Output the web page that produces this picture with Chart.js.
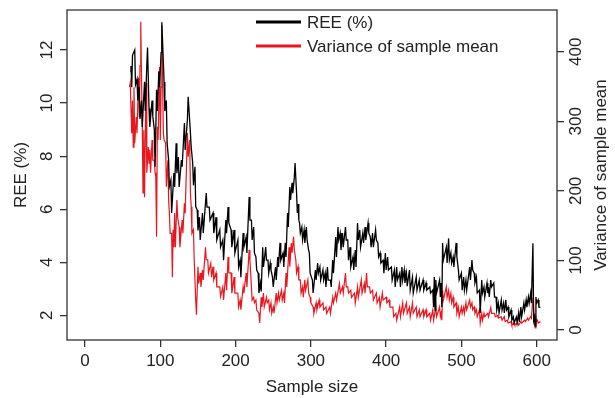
<!DOCTYPE html>
<html>
<head>
<meta charset="UTF-8">
<script src="https://cdn.jsdelivr.net/npm/chart.js@4.4.1/dist/chart.umd.min.js"></script>
<style>body{margin:0;background:#fff}</style>
</head>
<body>
<canvas id="chart" width="615" height="398"></canvas>
<script>
// tick labels
var sizeTicks = [0, 100, 200, 300, 400, 500, 600];
var reeTicks = [2, 4, 6, 8, 10, 12];
var varTicks = [0, 100, 200, 300, 400];

// REE (%) against sample size (left axis)
var reeSize = [
  60,61,62,63,66,67,69,70,72,73, 75,76,79,80,82,83,85,86,89,90,
  92,93,95,96,98,99,101,102,105,106, 108,109,111,112,114,115,118,119,121,122,
  124,125,128,129,132,133,136,137,140,141, 143,144,146,147,149,150,152,153,156,157,
  161,162,165,166,170,171,174,175,179,180, 183,184,187,188,190,191,194,195,198,199,
  203,204,206,207,210,211,214,215,218,219, 221,222,224,225,227,228,230,231,233,234,
  236,237,240,241,243,244,246,247,249,250, 253,254,256,257,259,260,263,264,266,267,
  269,270,272,273,275,276,278,279,281,282, 283,284,285,286,288,289,291,292,294,295,
  296,297,298,299,302,303,306,307,309,310, 312,313,316,317,319,320,322,323,326,327,
  329,330,333,334,336,337,339,340,342,343, 346,347,349,350,352,353,356,357,359,360,
  362,363,365,366,369,370,372,373,376,377, 379,380,382,383,386,387,389,390,392,393,
  396,397,399,400,402,403,407,408,411,412, 414,415,418,419,421,422,424,425,427,428,
  431,432,435,436,440,441,444,445,449,450, 453,454,458,459,462,463,464,465,466,467,
  471,472,473,474,475,476,480,481,483,484, 486,487,489,490,493,494,496,497,500,501,
  503,504,506,507,511,512,514,515,517,518, 520,521,524,525,527,528,530,531,534,535,
  536,537,539,540,543,544,546,547,549,550, 553,554,556,557,559,560,562,563,566,567,
  569,570,573,574,576,577,579,580,583,584, 586,587,589,590,592,593,595,596,597,598,
  599,600,602,603,605
];
var reeValue = [
  11.2,11.4,10.6,11.8,12.0,10.7,10.9,10.1,10.6,9.4, 10.1,9.1,10.8,9.7,11.4,12.1,9.8,9.1,10.1,9.5,
  9.0,7.6,10.5,9.7,11.2,10.6,11.9,13.05,10.8,9.7, 10.1,8.5,7.85,6.85,7.1,5.86,7.36,6.84,8.49,7.36,
  7.97,6.84,7.85,7.6,9.25,8.23,9.4,10.24,8.87,8.34, 7.74,6.9,7.6,6.1,5.97,5.2,5.7,4.84,5.86,5.1,
  6.61,6.08,6.08,5.59,5.86,5.1,5.7,4.84,5.22,4.57, 4.84,4.08,5.59,5.1,6.08,5.48,5.22,4.57,5.22,4.35,
  4.84,3.82,4.08,3.44,5.1,4.57,4.95,4.35,6.46,5.59, 5.59,4.84,5.33,4.35,4.2,3.71,3.59,2.84,3.22,2.9,
  4.57,3.82,4.57,4.08,4.08,3.59,3.97,3.71,3.44,3.07, 3.82,3.33,4.2,3.82,4.73,4.08,4.35,3.82,4.73,4.2,
  5.86,5.33,6.84,6.35,7.0,6.6,7.2,7.74,6.61,5.86, 6.2,5.59,5.48,5.1,5.33,4.84,5.22,4.73,5.33,4.84,
  4.84,4.46,4.35,3.59,3.33,2.84,3.71,3.33,3.97,3.59, 3.82,3.33,3.71,3.33,3.59,3.07,3.82,3.33,3.33,3.07,
  4.08,3.59,4.95,4.2,5.33,4.84,5.1,4.46,5.1,4.57, 5.33,4.84,4.84,4.08,4.57,3.82,4.2,3.71,4.46,3.82,
  5.48,4.84,5.22,4.57,5.1,4.73,5.33,4.84,5.48,5.1, 4.95,4.57,5.1,4.57,5.22,4.84,4.73,4.2,4.35,3.97,
  4.08,3.59,4.35,3.71,4.2,3.71,3.82,3.33,3.71,3.07, 3.82,3.33,3.59,3.07,3.82,3.33,3.71,3.22,3.59,3.1,
  3.71,2.95,3.44,2.84,3.44,2.95,3.33,2.95,3.33,2.95, 3.22,2.95,3.07,2.84,2.95,2.31,3.44,2.2,3.33,2.84,
  3.33,2.69,3.22,2.31,4.73,4.08,4.57,3.97,4.9,4.08, 4.35,3.97,4.2,3.82,4.73,4.2,3.71,3.33,3.59,2.95,
  3.44,2.95,3.33,2.95,3.82,3.33,4.08,3.71,3.59,3.22, 3.44,2.84,2.95,2.09,3.33,2.84,3.07,2.69,3.22,2.84,
  3.07,2.69,3.33,3.07,3.22,2.69,2.69,2.2,2.46,2.09, 2.58,2.2,2.46,2.09,2.58,2.2,2.31,1.94,2.2,1.82,
  1.94,1.71,1.94,1.71,2.09,1.75,2.31,1.94,2.46,2.2, 2.58,2.31,2.69,2.46,2.84,2.46,4.72,1.82,1.94,1.6,
  2.69,2.46,2.58,2.31,2.3
];

// variance of sample mean against sample size (right axis)
var varSize = [
  59,60,61,62,63,64,65,66,68,69, 71,72,73,74,75,76,77,78,79,81,
  82,84,85,86,87,89,90,92,93,94, 95,96,97,99,100,101,102,104,105,107,
  108,110,111,112,113,115,116,117,118,119, 120,122,123,125,126,129,130,132,133,136,
  137,139,140,141,142,144,145,147,148,150, 151,153,154,156,157,160,161,163,164,167,
  168,170,171,174,175,179,180,183,184,187, 188,190,191,194,195,198,199,203,204,206,
  207,210,211,214,215,218,219,221,222,224, 225,227,228,231,232,234,235,237,238,241,
  242,244,245,247,248,250,251,254,255,257, 258,261,262,264,265,267,268,271,272,274,
  275,277,278,280,281,283,284,286,287,289, 290,292,293,296,297,299,300,303,304,307,
  308,311,312,316,317,320,321,325,326,329, 330,333,334,338,339,342,343,346,347,349,
  350,353,354,358,359,362,363,367,368,371, 372,374,375,378,379,382,383,387,388,391,
  392,395,396,400,401,404,405,409,410,413, 414,418,419,422,423,427,428,431,432,435,
  436,440,441,444,445,449,450,453,454,458, 459,462,463,466,467,471,472,473,474,475,
  476,480,481,483,484,486,487,489,490,493, 494,496,497,500,501,503,504,506,507,511,
  512,514,515,517,518,520,521,524,525,527, 528,530,531,535,536,539,540,544,545,548,
  549,553,554,557,558,561,562,566,567,570, 571,575,576,579,580,584,585,588,589,592,
  593,595,597,598,599,600,601,602,605
];
var varValue = [
  349,355,355,283,330,263,349,269,306,283, 363,306,380,443,360,297,197,287,191,355,
  226,263,240,259,226,273,244,244,226,220, 134,292,273,378,273,349,438,283,273,269,
  206,244,187,168,139,139,76,144,119,168, 119,187,162,148,119,158,139,182,168,283,
  249,273,197,177,139,144,101,43,22,91, 67,82,62,86,72,119,101,101,82,96,
  76,91,72,82,62,62,48,62,43,82, 57,105,82,82,53,76,53,53,33,43,
  29,62,53,82,62,115,101,62,43,47, 39,43,29,24,10,47,33,53,33,47,
  39,43,29,39,24,33,24,53,39,53, 43,57,43,53,39,82,62,119,91,125,
  111,134,115,101,82,91,72,72,53,62, 47,72,57,72,53,47,39,33,24,39,
  29,43,33,39,29,33,24,33,24,47, 39,53,43,67,53,62,53,82,62,62,
  53,57,47,53,39,62,47,72,53,67, 53,82,62,62,53,57,43,53,39,47,
  33,53,43,47,39,43,33,33,19,24, 14,33,19,39,24,39,24,33,19,39,
  24,33,19,29,19,29,19,29,19,24, 14,29,14,33,19,33,19,24,14,57,
  43,62,47,57,43,53,39,47,33,39, 24,33,19,33,24,33,24,39,29,43,
  33,39,29,33,24,29,19,29,10,24, 14,24,19,24,19,32,24,24,19,21,
  17,19,14,19,12,14,10,12,7,10, 7,10,7,12,10,14,12,17,14,19,
  17,47,10,3,17,12,14,10,12
];

var FONT = '"Liberation Sans", Arial, sans-serif';
var TEXT = '#222';
var AXIS = '#333';
var RED = 'rgb(232,22,30)';

function toPoints(xs, ys) {
  var pts = [];
  for (var i = 0; i < Math.min(xs.length, ys.length); i++) pts.push({x: xs[i], y: ys[i]});
  return pts;
}

function fixTicks(list) {
  return function(scale) { scale.ticks = list.map(function(v) { return {value: v}; }); };
}

// box, rotated y labels, axis titles and legend
var decor = {
  id: 'decor',
  afterDraw: function(chart) {
    var ctx = chart.ctx, a = chart.chartArea;
    var mid = (a.top + a.bottom) / 2;
    ctx.save();
    ctx.strokeStyle = AXIS;
    ctx.lineWidth = 1.3;
    ctx.strokeRect(a.left, a.top, a.right - a.left, a.bottom - a.top);

    ctx.fillStyle = TEXT;
    ctx.font = '17px ' + FONT;
    ctx.textAlign = 'center';
    ctx.textBaseline = 'middle';
    function vtext(t, x, y) {
      ctx.save();
      ctx.translate(x, y);
      ctx.rotate(-Math.PI / 2);
      ctx.fillText(t, 0, 0);
      ctx.restore();
    }
    var yl = chart.scales.yRee, yr = chart.scales.yVar;
    reeTicks.forEach(function(v) { vtext(String(v), 47, yl.getPixelForValue(v)); });
    varTicks.forEach(function(v) { vtext(String(v), 576, yr.getPixelForValue(v)); });
    vtext('REE (%)', 21, mid);
    vtext('Variance of sample mean', 601, mid);

    // legend
    var rows = [['REE (%)', '#000', 22], ['Variance of sample mean', RED, 46]];
    ctx.textAlign = 'left';
    rows.forEach(function(r) {
      ctx.strokeStyle = r[1];
      ctx.lineWidth = 3;
      ctx.beginPath();
      ctx.moveTo(256, r[2]);
      ctx.lineTo(301, r[2]);
      ctx.stroke();
      ctx.fillText(r[0], 307, r[2] + 1);
    });
    ctx.restore();
  }
};

new Chart(document.getElementById('chart'), {
  type: 'line',
  data: {
    datasets: [
      {
        label: 'REE (%)',
        data: toPoints(reeSize, reeValue),
        yAxisID: 'yRee',
        borderColor: '#000',
        borderWidth: 1.3,
        pointRadius: 0,
        tension: 0
      },
      {
        label: 'Variance of sample mean',
        data: toPoints(varSize, varValue),
        yAxisID: 'yVar',
        borderColor: RED,
        borderWidth: 1.2,
        pointRadius: 0,
        tension: 0
      }
    ]
  },
  options: {
    responsive: false,
    animation: false,
    layout: {padding: {top: 10, left: 0, right: 0, bottom: 0}},
    plugins: {legend: {display: false}, tooltip: {enabled: false}},
    scales: {
      x: {
        type: 'linear',
        position: 'bottom',
        min: -24,
        max: 627,
        afterBuildTicks: fixTicks(sizeTicks),
        afterFit: function(s) { s.height = 58; },
        grid: {drawOnChartArea: false, drawTicks: true, tickLength: 7, color: AXIS, lineWidth: 1.3},
        border: {display: false},
        ticks: {color: TEXT, font: {family: FONT, size: 17}, padding: 4, maxRotation: 0},
        title: {display: true, text: 'Sample size', color: TEXT, font: {family: FONT, size: 17}, padding: {top: 0, bottom: 0}}
      },
      yRee: {
        type: 'linear',
        position: 'left',
        min: 1.07,
        max: 13.51,
        afterBuildTicks: fixTicks(reeTicks),
        afterFit: function(s) { s.width = 67; },
        grid: {drawOnChartArea: false, drawTicks: true, tickLength: 7, color: AXIS, lineWidth: 1.3},
        border: {display: false},
        ticks: {display: false}
      },
      yVar: {
        type: 'linear',
        position: 'right',
        min: -14.4,
        max: 460,
        afterBuildTicks: fixTicks(varTicks),
        afterFit: function(s) { s.width = 58; },
        grid: {drawOnChartArea: false, drawTicks: true, tickLength: 7, color: AXIS, lineWidth: 1.3},
        border: {display: false},
        ticks: {display: false}
      }
    }
  },
  plugins: [decor]
});
</script>
</body>
</html>
